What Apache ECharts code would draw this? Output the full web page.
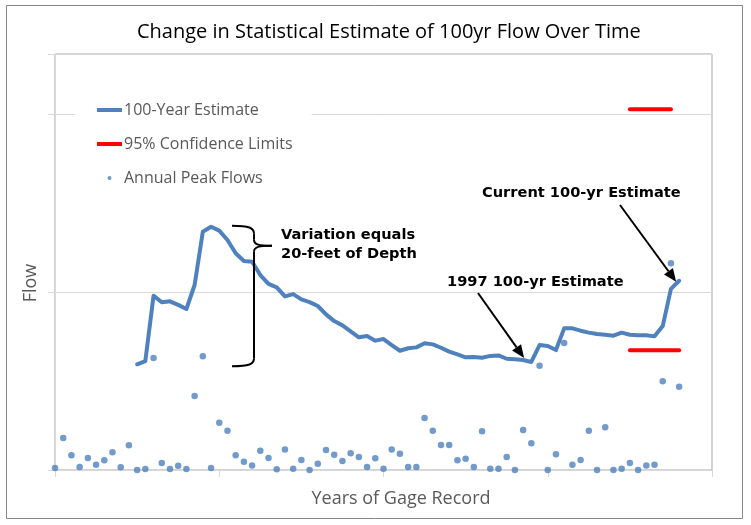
<!DOCTYPE html>
<html><head><meta charset="utf-8">
<script src="https://cdn.jsdelivr.net/npm/echarts@6/dist/echarts.min.js"></script>
<style>html,body{margin:0;padding:0;background:#fff}#c{width:751px;height:525px}</style>
</head><body><div id="c"></div>
<script>
// ---- data (x = year index of gage record, y = flow in relative units) ----
const peakFlows = [0.011,0.18,0.083,0.017,0.068,0.03,0.055,0.10,0.015,0.139,
  0.0,0.006,0.63,0.04,0.006,0.024,0.006,0.416,0.64,0.011,
  0.266,0.221,0.083,0.047,0.026,0.109,0.068,0.004,0.116,0.007,
  0.056,0.0,0.035,0.113,0.086,0.051,0.094,0.073,0.017,0.066,
  0.007,0.116,0.092,0.017,0.017,0.293,0.221,0.141,0.141,0.055,
  0.064,0.017,0.218,0.007,0.007,0.073,0.0,0.225,0.15,0.587,
  0.0,0.088,0.715,0.03,0.056,0.221,0.0,0.24,0.0,0.007,
  0.039,0.0,0.026,0.03,0.5,1.163,0.469];
const estimateStartYear = 10;
const estimate100yr = [0.595,0.613,0.981,0.944,0.949,0.929,0.906,1.041,1.341,1.369,
  1.347,1.294,1.22,1.176,1.172,1.097,1.047,1.028,0.977,0.99,
  0.96,0.945,0.923,0.876,0.838,0.814,0.78,0.747,0.754,0.728,
  0.737,0.703,0.671,0.685,0.69,0.713,0.707,0.688,0.666,0.651,
  0.634,0.636,0.632,0.642,0.645,0.626,0.623,0.619,0.608,0.703,
  0.698,0.675,0.797,0.797,0.784,0.773,0.765,0.761,0.756,0.773,
  0.761,0.758,0.758,0.752,0.81,1.019,1.065];
const lowerLimitX = [70, 76];
const lowerLimitY = [0.674, 0.674];
const upperLimitX = [70, 75];
const upperLimitY = [2.03, 2.03];
const xTickValues = [0, 20, 40, 60, 80];
const yTickValues = [0, 1, 2];
const seriesNames = ['100-Year Estimate', '95% Confidence Limits', 'Annual Peak Flows'];
const titleText = 'Change in Statistical Estimate of 100yr Flow Over Time';
const xName = 'Years of Gage Record';
const yName = 'Flow';
const notes = { brace: ['Variation equals', '20-feet of Depth'], y1997: '1997 100-yr Estimate', current: 'Current 100-yr Estimate' };

// ---- build ----
const BLUE = '#4F81BD', RED = '#FF0000', GRID = '#d9d9d9', TXT = '#595959';
const FONT = '"Open Sans", "Noto Sans", sans-serif';
const scatterData = peakFlows.map((v, i) => [i, v]);
const estData = estimate100yr.map((v, i) => [estimateStartYear + i, v]);
const lowerData = lowerLimitX.map((x, i) => [x, lowerLimitY[i]]);
const upperData = upperLimitX.map((x, i) => [x, upperLimitY[i]]);

function arrow(x1, y1, x2, y2) {
  const dx = x2 - x1, dy = y2 - y1, L = Math.hypot(dx, dy), ux = dx / L, uy = dy / L;
  const hl = 13, hw = 5.5, bx = x2 - ux * hl, by = y2 - uy * hl;
  return [
    { type: 'line', shape: { x1, y1, x2: bx, y2: by }, style: { stroke: '#000', lineWidth: 2 }, z: 100 },
    { type: 'polygon', shape: { points: [[x2, y2], [bx - uy * hw, by + ux * hw], [bx + uy * hw, by - ux * hw]] }, style: { fill: '#000' }, z: 100 }
  ];
}
const noteFont = 'bold 14.6px "DejaVu Sans", Verdana, sans-serif';
function note(text, x, y) {
  return { type: 'text', x, y, z: 100, style: { text, font: noteFont, fill: '#000', verticalAlign: 'middle', align: 'left' } };
}
const stroke = { stroke: '#000', lineWidth: 2, fill: 'none' };
function bez(x1, y1, cpx1, cpy1, cpx2, cpy2, x2, y2) {
  return { type: 'bezierCurve', shape: { x1, y1, cpx1, cpy1, cpx2, cpy2, x2, y2 }, style: stroke, z: 100 };
}
function seg(x1, y1, x2, y2) {
  return { type: 'line', shape: { x1, y1, x2, y2 }, style: stroke, z: 100 };
}

const chart = echarts.init(document.getElementById('c'), null, { renderer: 'canvas' });
const option = {
  animation: false,
  backgroundColor: '#fff',
  title: {
    text: titleText, left: 132, top: 17, padding: 5,
    textStyle: { fontFamily: FONT, fontSize: 20, fontWeight: 'normal', color: '#000' }
  },
  legend: {
    orient: 'vertical', left: 75, top: 93, padding: [9, 19, 9, 22], itemGap: 18,
    backgroundColor: '#fff', itemWidth: 25, itemHeight: 4,
    textStyle: { fontFamily: FONT, fontSize: 16, color: TXT, lineHeight: 16, padding: [0, 0, 0, -3] },
    data: [
      { name: seriesNames[0], icon: 'rect' },
      { name: seriesNames[1], icon: 'rect' },
      { name: seriesNames[2], icon: 'circle' }
    ]
  },
  grid: { left: 55, right: 39, top: 54, bottom: 55, show: true, borderColor: '#a6a6a6', borderWidth: 1 },
  xAxis: {
    type: 'value', min: xTickValues[0], max: xTickValues[xTickValues.length - 1], interval: xTickValues[1] - xTickValues[0],
    name: xName, nameLocation: 'middle', nameGap: 20,
    nameTextStyle: { fontFamily: FONT, fontSize: 18, color: TXT, padding: [0, 0, 0, 35] },
    axisLine: { lineStyle: { color: GRID, width: 1 } },
    axisTick: { show: true, length: 7, lineStyle: { color: GRID } },
    axisLabel: { show: false }, splitLine: { show: false }
  },
  yAxis: {
    type: 'value', min: yTickValues[0], max: 2.341, interval: yTickValues[1] - yTickValues[0],
    name: yName, nameLocation: 'middle', nameGap: 15, nameRotate: 90,
    nameTextStyle: { fontFamily: FONT, fontSize: 18, color: TXT, padding: [0, 42, 0, 0] },
    axisLine: { show: true, lineStyle: { color: GRID, width: 1 } },
    axisTick: { show: true, length: 7, lineStyle: { color: GRID } },
    axisLabel: { show: false },
    splitLine: { show: true, lineStyle: { color: GRID, width: 1 } }
  },
  series: [
    { name: seriesNames[2], type: 'scatter', data: scatterData, symbolSize: 6.5, itemStyle: { color: BLUE }, z: 2 },
    { name: seriesNames[0], type: 'line', data: estData, showSymbol: false, symbol: 'none', color: BLUE,
      lineStyle: { color: BLUE, width: 4, cap: 'round', join: 'round' }, z: 3 },
    { name: seriesNames[1], type: 'line', data: lowerData, showSymbol: false, symbol: 'none', color: RED, clip: false,
      lineStyle: { color: RED, width: 4, cap: 'round' }, z: 3 },
    { name: seriesNames[1], type: 'line', data: upperData, showSymbol: false, symbol: 'none', color: RED, clip: false,
      lineStyle: { color: RED, width: 4, cap: 'round' }, z: 3 }
  ]
};
chart.setOption(option);

// annotations positioned from data points
const peakIdx = estimate100yr.indexOf(Math.max(...estimate100yr));
const pTop = chart.convertToPixel({ gridIndex: 0 }, [estimateStartYear + peakIdx, estimate100yr[peakIdx]]);
const pBot = chart.convertToPixel({ gridIndex: 0 }, [estimateStartYear, estimate100yr[0]]);
const p1997 = chart.convertToPixel({ gridIndex: 0 }, [57, estimate100yr[57 - estimateStartYear]]);
const pCur = chart.convertToPixel({ gridIndex: 0 }, [76, estimate100yr[76 - estimateStartYear]]);
const bx = 232, sx = 254, tx = 272, yt = pTop[1] - 1, yb = pBot[1] + 2, ym = yt + 20;
chart.setOption({
  graphic: [
    { type: 'rect', shape: { x: 6.5, y: 5.5, width: 736, height: 513 }, style: { fill: 'none', stroke: '#868686', lineWidth: 1 }, z: 100 },
    bez(bx, yt, sx - 5, yt, sx, yt + 2, sx, yt + 8),
    seg(sx, yt + 8, sx, ym - 6),
    bez(sx, ym - 6, sx, ym - 1, sx + 5, ym, tx, ym),
    bez(tx, ym, sx + 5, ym, sx, ym + 1, sx, ym + 6),
    seg(sx, ym + 6, sx, yb - 8),
    bez(sx, yb - 8, sx, yb - 2, sx - 5, yb, bx, yb),
    note(notes.brace[0], 281, 235), note(notes.brace[1], 281, 254),
    note(notes.y1997, 447, 282), note(notes.current, 482, 193),
    ...arrow(478, 293, p1997[0] + 1, p1997[1] - 2),
    ...arrow(620, 205, pCur[0] - 3, pCur[1] + 1)
  ]
});
</script></body></html>
